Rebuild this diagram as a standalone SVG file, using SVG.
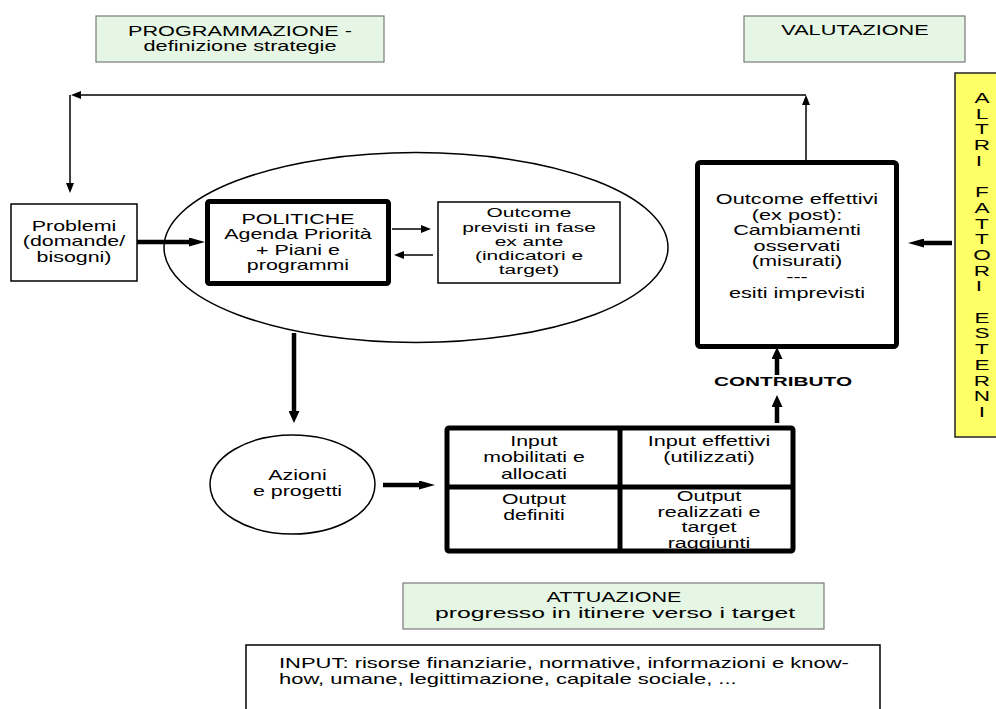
<svg xmlns="http://www.w3.org/2000/svg" width="996" height="709" viewBox="0 0 996 709">
<style>
.t{font-family:"Liberation Sans",Arial,Helvetica,sans-serif;font-size:14px;fill:#000;text-anchor:middle}
.s{font-size:13.5px}
.b{font-weight:bold;font-size:13px}
.l{text-anchor:start}
.y{font-size:15px}
.box{fill:#fff;stroke:#000;stroke-width:1.5}
.thick{fill:#fff;stroke:#000;stroke-width:5;stroke-linejoin:round}
.hdr{fill:#e6f6e4;stroke:#7a7a7a;stroke-width:1.2}
.ell{fill:none;stroke:#000;stroke-width:1.5}
.thin{stroke:#000;stroke-width:1.5;fill:none}
.bold{stroke:#000;stroke-width:4.5;fill:none}
</style>
<defs>
<marker id="ah" viewBox="0 0 10 8" markerUnits="userSpaceOnUse" markerWidth="10" markerHeight="8" refX="1" refY="4" orient="auto"><path d="M0,0 L10,4 L0,8 z" fill="#000"/></marker>
<marker id="ahb" viewBox="0 0 12 11" markerUnits="userSpaceOnUse" markerWidth="12" markerHeight="11" refX="1" refY="5.5" orient="auto"><path d="M0,0 L12,5.5 L0,11 z" fill="#000"/></marker>
<marker id="ahl" viewBox="0 0 16 9" markerUnits="userSpaceOnUse" markerWidth="16" markerHeight="9" refX="1" refY="4.5" orient="auto"><path d="M0,0 L16,4.5 L0,9 z" fill="#000"/></marker>
</defs>

<g id="programmazione">
<rect class="hdr" x="96" y="16" width="288" height="46"/>
<text class="t" transform="matrix(1.55 0 0 1 240 0)"><tspan x="0" y="36">PROGRAMMAZIONE -</tspan><tspan x="0" y="51.5">definizione strategie</tspan></text>
</g>

<g id="valutazione">
<rect class="hdr" x="744" y="16" width="221" height="46"/>
<text class="t" transform="matrix(1.55 0 0 1 855 0)"><tspan x="0" y="35.5">VALUTAZIONE</tspan></text>
</g>

<g id="altri-fattori">
<rect x="955" y="73" width="50" height="364" fill="#ffff66" stroke="#222" stroke-width="1.5"/>
<text class="t y" transform="matrix(1.5 0 0 1 982 0)">
<tspan x="0" y="103">A</tspan><tspan x="0" y="118.7">L</tspan><tspan x="0" y="134.4">T</tspan><tspan x="0" y="150.1">R</tspan><tspan x="0" y="165.8">I</tspan>
<tspan x="0" y="197.2">F</tspan><tspan x="0" y="212.9">A</tspan><tspan x="0" y="228.6">T</tspan><tspan x="0" y="244.3">T</tspan><tspan x="0" y="260">O</tspan><tspan x="0" y="275.7">R</tspan><tspan x="0" y="291.4">I</tspan>
<tspan x="0" y="322.8">E</tspan><tspan x="0" y="338.5">S</tspan><tspan x="0" y="354.2">T</tspan><tspan x="0" y="369.9">E</tspan><tspan x="0" y="385.6">R</tspan><tspan x="0" y="401.3">N</tspan><tspan x="0" y="417">I</tspan>
</text>
</g>

<g id="problemi">
<rect class="box" x="11" y="204" width="126" height="77"/>
<text class="t" transform="matrix(1.53 0 0 1 74 0)"><tspan x="0" y="231">Problemi</tspan><tspan x="0" y="246.5">(domande/</tspan><tspan x="0" y="262">bisogni)</tspan></text>
</g>

<g id="ambito-programmazione">
<ellipse class="ell" cx="416" cy="247.5" rx="252" ry="95"/>
</g>

<g id="politiche">
<rect class="thick" x="207.5" y="201.5" width="181" height="82" rx="2"/>
<text class="t" transform="matrix(1.53 0 0 1 298 0)"><tspan x="0" y="224">POLITICHE</tspan><tspan x="0" y="239.5">Agenda Priorità</tspan><tspan x="0" y="255">+ Piani e</tspan><tspan x="0" y="270.5">programmi</tspan></text>
</g>

<g id="outcome-previsti">
<rect class="box" x="438" y="202" width="182" height="81"/>
<text class="t s" transform="matrix(1.55 0 0 1 529 0)"><tspan x="0" y="217.5">Outcome</tspan><tspan x="0" y="231.7">previsti in fase</tspan><tspan x="0" y="245.9">ex ante</tspan><tspan x="0" y="260.1">(indicatori e</tspan><tspan x="0" y="274.3">target)</tspan></text>
</g>

<g id="outcome-effettivi">
<rect class="thick" x="697.5" y="162.5" width="199" height="184" rx="3"/>
<text class="t" transform="matrix(1.55 0 0 1 797 0)"><tspan x="0" y="204">Outcome effettivi</tspan><tspan x="0" y="219.6">(ex post):</tspan><tspan x="0" y="235.2">Cambiamenti</tspan><tspan x="0" y="250.8">osservati</tspan><tspan x="0" y="266.4">(misurati)</tspan><tspan x="0" y="282">---</tspan><tspan x="0" y="297.6">esiti imprevisti</tspan></text>
</g>

<g id="azioni">
<ellipse class="ell" cx="292.5" cy="484.5" rx="82.5" ry="49.5"/>
<text class="t" transform="matrix(1.53 0 0 1 297.5 0)"><tspan x="0" y="480">Azioni</tspan><tspan x="0" y="496.5">e progetti</tspan></text>
</g>

<g id="griglia">
<rect class="thick" x="447" y="428" width="346" height="123" rx="2"/>
<line x1="620" y1="428" x2="620" y2="551" stroke="#000" stroke-width="5"/>
<line x1="447" y1="487" x2="793" y2="487" stroke="#000" stroke-width="5"/>
<text class="t" transform="matrix(1.52 0 0 1 534 0)"><tspan x="0" y="446">Input</tspan><tspan x="0" y="462.5">mobilitati e</tspan><tspan x="0" y="479">allocati</tspan></text>
<text class="t" transform="matrix(1.55 0 0 1 709 0)"><tspan x="0" y="446">Input effettivi</tspan><tspan x="0" y="462.5">(utilizzati)</tspan></text>
<text class="t" transform="matrix(1.52 0 0 1 534 0)"><tspan x="0" y="504.5">Output</tspan><tspan x="0" y="520.5">definiti</tspan></text>
<text class="t" transform="matrix(1.54 0 0 1 709 0)"><tspan x="0" y="501">Output</tspan><tspan x="0" y="517">realizzati e</tspan><tspan x="0" y="532.5">target</tspan><tspan x="0" y="548">raggiunti</tspan></text>
</g>

<g id="contributo">
<text class="t b" transform="matrix(1.6 0 0 1 783 0)"><tspan x="0" y="386">CONTRIBUTO</tspan></text>
</g>

<g id="attuazione">
<rect class="hdr" x="403" y="583" width="421" height="46"/>
<text class="t" transform="matrix(1.54 0 0 1 614 0)"><tspan x="0" y="602">ATTUAZIONE</tspan></text>
<text class="t" x="615" y="618" textLength="360" lengthAdjust="spacingAndGlyphs">progresso in itinere verso i target</text>
</g>

<g id="input">
<rect class="box" x="246" y="645" width="634" height="80"/>
<text class="t l" transform="matrix(1.57 0 0 1 279 0)"><tspan x="0" y="668">INPUT: risorse finanziarie, normative, informazioni e know-</tspan><tspan x="0" y="684">how, umane, legittimazione, capitale sociale, ...</tspan></text>
</g>

<g id="connectors">
<line class="thin" x1="806" y1="160" x2="806" y2="104" marker-end="url(#ah)"/>
<line class="thin" x1="806" y1="95" x2="80" y2="95" marker-end="url(#ah)"/>
<line class="thin" x1="70" y1="95" x2="70" y2="184" marker-end="url(#ah)"/>
<line class="bold" x1="137" y1="242" x2="190" y2="242" marker-end="url(#ahl)" stroke-width="5"/>
<line class="thin" x1="392" y1="229" x2="422" y2="229" marker-end="url(#ah)"/>
<line class="thin" x1="433" y1="255" x2="403" y2="255" marker-end="url(#ah)"/>
<line class="bold" x1="294" y1="333" x2="294" y2="412" marker-end="url(#ahb)"/>
<line class="bold" x1="383" y1="485" x2="420" y2="485" marker-end="url(#ahl)"/>
<line class="bold" x1="777" y1="423" x2="777" y2="406" marker-end="url(#ahb)"/>
<line class="bold" x1="777" y1="375" x2="777" y2="358" marker-end="url(#ahb)"/>
<line class="bold" x1="952" y1="243" x2="923" y2="243" marker-end="url(#ahl)"/>
</g>
</svg>
